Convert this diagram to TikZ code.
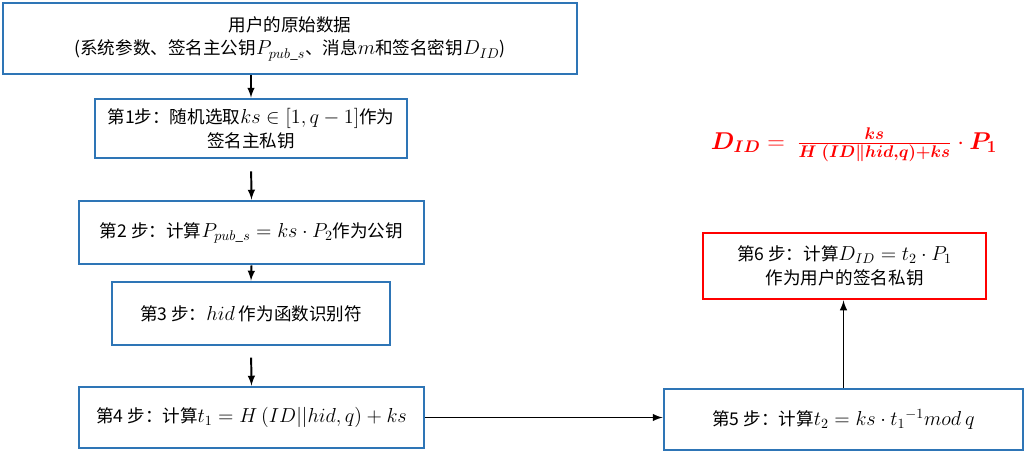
\documentclass[tikz,border=0pt]{standalone}
\usepackage{amsmath}
\usepackage{bm}
\usepackage{fontspec}
\setmainfont{Noto Sans CJK SC}
\usetikzlibrary{arrows.meta, positioning, calc}

\DeclareMathSizes{12.5}{14}{10}{8}

\definecolor{stepblue}{RGB}{46,117,182}
\definecolor{stepred}{RGB}{255,0,0}

\newcommand{\keyformula}{$\bm{D_{ID}}=\ \tfrac{\bm{ks}}{\bm{H\ (ID\Vert hid,q)+ks}}\cdot\bm{P_1}$}

\tikzset{
    stepbox/.style={draw=stepblue, line width=2pt, fill=white, align=center,
        font=\fontsize{12.5}{17}\selectfont, inner sep=2pt},
    keybox/.style={stepbox, draw=stepred},
    flow/.style={->, line width=1.4pt, black},
}

\begin{document}
\begin{tikzpicture}[>=latex]
    \useasboundingbox (0, 0) rectangle (25.6, -11.275);

    % input data
    \node[stepbox, minimum width=14.35cm, minimum height=1.775cm] (data) at (7.25, -0.9625)
        {用户的原始数据\\(系统参数、签名主公钥$P_{pub\_s}$、消息$m$和签名密钥$D_{ID}$)};

    % steps 1--4
    \node[stepbox, minimum width=7.8cm, minimum height=1.475cm] (s1) at (6.275, -3.2125)
        {第1步：随机选取$ks\in[1,q-1]$作为\\签名主私钥};
    \node[stepbox, minimum width=8.625cm, minimum height=1.575cm] (s2) at (6.2875, -5.8125)
        {第2 步：计算$P_{pub\_s}=ks\cdot P_2$作为公钥};
    \node[stepbox, minimum width=6.95cm, minimum height=1.575cm] (s3) at (6.275, -7.8375)
        {第3 步：$hid$ 作为函数识别符};
    \node[stepbox, minimum width=8.625cm, minimum height=1.525cm] (s4) at (6.2875, -10.4375)
        {第4 步：计算$t_1=H\ (ID||hid,q)+ks$};

    % steps 5--6
    \node[stepbox, minimum width=8.975cm, minimum height=1.525cm] (s5) at (21.0875, -10.4875)
        {第5 步：计算$t_2=ks\cdot {t_1}^{-1}mod\ q$};
    \node[keybox, minimum width=7.075cm, minimum height=1.65cm] (s6) at (21.1125, -6.65)
        {第6 步：计算$D_{ID}=t_2\cdot P_1$\\作为用户的签名私钥};

    % result
    \node[text=stepred, font=\fontsize{16.5}{20}\selectfont] (result) at (21.35, -3.625) {\keyformula};

    \draw[flow] (s1.north |- data.south) -- (s1.north);
    \draw[flow, shorten <=0.3cm] (s1.south) -- (s2.north);
    \draw[flow] (s2.south) -- (s3.north);
    \draw[flow, shorten <=0.28cm] (s3.south) -- (s4.north);
    \draw[flow] (s4.east) -- (s4.east -| s5.west);
    \draw[flow] (s5.north) -- (s5.north |- s6.south);

\end{tikzpicture}
\end{document}
